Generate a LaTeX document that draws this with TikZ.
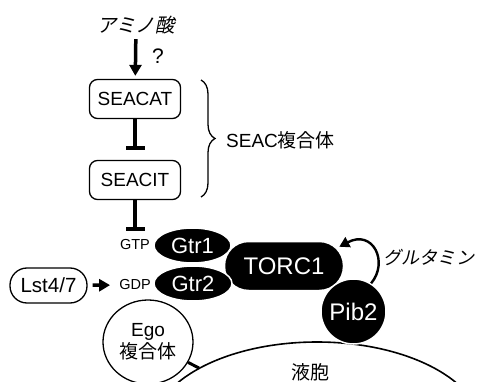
\documentclass[tikz,border=0pt]{standalone}
\usepackage{fontspec}
\setmainfont{Liberation Sans}
\newfontfamily\jp{Noto Sans CJK JP}
\newfontfamily\jpit[FakeSlant=0.2]{Noto Sans CJK JP}
\usetikzlibrary{arrows.meta, shapes.geometric, decorations.pathreplacing, calc}

\begin{document}
\begin{tikzpicture}[
    x=1pt, y=-1pt,
    box/.style={draw, line width=1.3pt, rounded corners=8pt, minimum width=91pt, minimum height=39pt, inner sep=0pt, font=\fontsize{19}{21}\selectfont},
    blob/.style={fill=black, draw=white, line width=1.5pt, text=white, inner sep=0pt},
    lab/.style={inner sep=0pt},
    act/.style={-{Triangle[length=11pt, width=12pt]}, line width=3.5pt},
    inhib/.style={-{Bar[width=19pt]}, line width=3.5pt}
]
    \useasboundingbox (0,0) rectangle (479,382);

    % Vacuole
    \begin{scope}
        \clip (0,0) rectangle (479,382);
        \draw[line width=1.6pt] (317,430) ellipse [x radius=165, y radius=88];
    \end{scope}
    \coordinate (vacedge) at (199,368);
    \node[lab, font=\jp\fontsize{19}{21}\selectfont] (vacuole) at (310,372) {液胞};

    % SEAC complex
    \node[lab, font=\jpit\fontsize{19.5}{21}\selectfont] (amino) at (136,25) {アミノ酸};
    \node[lab, font=\fontsize{21}{23}\selectfont] (query) at (158,56) {?};
    \node[box] (seacat) at (135,99) {SEACAT};
    \node[box] (seacit) at (135,180) {SEACIT};
    \coordinate (bracetop) at (201,80);
    \coordinate (bracebot) at (201,197);
    \draw[line width=1.3pt, decorate, decoration={brace, amplitude=14pt}] (bracetop) -- (bracebot);
    \node[lab, anchor=west, font=\fontsize{19}{21}\selectfont] (seac) at (226,140) {SEAC{\jp 複合体}};

    % Ego complex
    \node[draw, ellipse, fill=white, line width=1.3pt, minimum width=90pt, minimum height=84pt, inner sep=0pt, align=center, font=\fontsize{19}{22}\selectfont] (ego) at (148,342) {Ego\\{\jp 複合体}};
    \draw[line width=3pt] (ego) -- (vacedge);

    % GTPases and TORC1
    \node[blob, rounded corners=24pt, minimum width=119pt, minimum height=49pt, font=\fontsize{24}{26}\selectfont] (torc1) at (284,266) {TORC1};
    \node[blob, circle, minimum size=65pt, font=\fontsize{24}{26}\selectfont] (pib2) at (353.5,311.5) {Pib2};
    \node[blob, ellipse, minimum width=77pt, minimum height=35pt, font=\fontsize{22}{24}\selectfont] (gtr1) at (192.5,245.5) {Gtr1};
    \node[blob, ellipse, minimum width=78pt, minimum height=35pt, font=\fontsize{22}{24}\selectfont] (gtr2) at (193,283.5) {Gtr2};
    \node[lab, font=\fontsize{14.5}{16}\selectfont] (gtp) at (135,245) {GTP};
    \node[lab, font=\fontsize{14.5}{16}\selectfont] (gdp) at (135,285) {GDP};
    \node[draw, line width=1.3pt, rounded corners=17pt, minimum width=77pt, minimum height=35pt, inner sep=0pt, font=\fontsize{20.5}{22}\selectfont] (lst) at (48.5,285.5) {Lst4/7};
    \node[lab, anchor=west, font=\jpit\fontsize{18.2}{20}\selectfont] (gln) at (383,257) {グルタミン};
    \coordinate (torctip) at ($(torc1.north east)+(-5,6)$);

    % Regulation
    \draw[act, shorten <=5pt, shorten >=3pt] (amino) -- (seacat);
    \draw[inhib, shorten >=10pt] (seacat) -- (seacit);
    \draw[inhib, shorten >=9pt] (seacit) -- (gtp);
    \draw[act, shorten <=5pt, shorten >=9pt] (lst) -- (gdp);
    \draw[line width=2.4pt, -{Triangle[length=10pt, width=11pt]}] (pib2.58) .. controls (389,262) and (373,229) .. (torctip);
\end{tikzpicture}
\end{document}
